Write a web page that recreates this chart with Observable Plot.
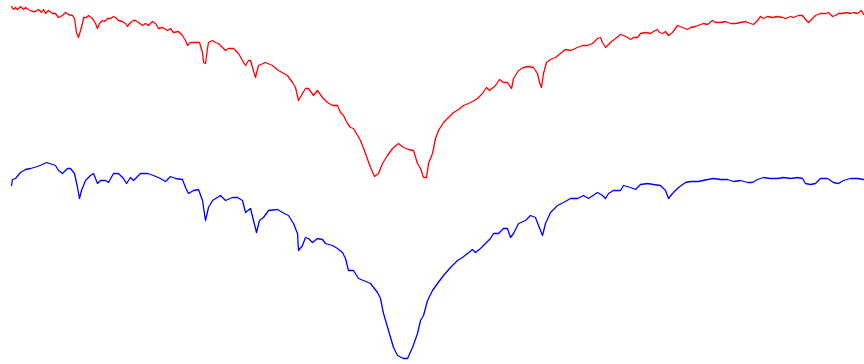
<!DOCTYPE html>
<html>
<head>
<meta charset="utf-8">
<script src="https://cdn.jsdelivr.net/npm/d3@7"></script>
<script src="https://cdn.jsdelivr.net/npm/@observablehq/plot@0.6"></script>
<style>
  html, body { margin: 0; padding: 0; background: #fff; }
  #chart svg { display: block; }
</style>
</head>
<body>
<div id="chart"></div>
<script>
// Two stacked spectra; y is measured downward from the top of the panel.
const redX = [11,13,15,17,20,23,25,28,32,35,38,41,43,45,48,52,55,58,62,65,68,72,74,76,78,80,82,83,86,88,92,95,97,99,102,104,107,110,113,115,118,122,125,127,130,133,135,138,142,145,148,152,155,158,162,167,170,173,178,182,185,187,190,195,199,202,203,205,207,208,212,215,218,222,225,228,233,238,242,245,248,250,255,258,265,272,278,287,292,295,298,302,305,308,313,317,322,327,332,337,340,343,347,350,353,360,365,370,374,378,382,387,392,398,403,408,413,417,420,423,426,428,432,435,438,443,448,453,458,463,468,472,477,482,486,489,495,499,503,507,511,513,518,523,528,533,537,539,541,543,546,550,555,560,565,570,577,582,587,592,597,600,602,605,610,615,620,623,627,630,633,637,640,645,650,653,657,659,662,665,668,672,677,682,687,690,695,700,703,707,712,715,720,725,730,735,740,745,750,753,757,760,763,767,772,777,782,785,790,793,798,802,805,808,812,815,820,825,828,832,835,838,842,846,850,853,857,861,863];
const redY = [6,9,7,9,6,9,7,9,11,11,9,12,9,13,10,13,13,17,15,12,14,15,18,32,37,30,23,17,17,15,18,23,28,23,20,21,18,18,16,17,20,21,23,26,22,20,20,22,25,23,25,21,23,28,27,30,28,32,31,35,40,45,42,42,42,52,62,63,48,42,40,42,43,47,50,48,48,53,60,65,60,60,77,65,62,65,70,75,82,87,100,93,88,88,95,90,97,102,105,105,112,115,123,127,128,140,153,167,176,173,163,155,148,143,147,149,150,163,168,177,177,163,153,138,130,122,117,112,109,105,103,101,98,93,87,90,85,79,82,82,88,78,70,67,66,67,73,82,87,73,62,59,57,53,49,50,47,45,45,43,38,37,42,47,42,38,34,35,37,39,37,37,33,32,33,31,29,32,33,31,35,32,25,27,29,27,26,24,23,24,20,22,22,21,23,23,22,21,23,24,20,16,18,16,17,16,17,18,16,17,15,15,19,22,18,15,13,13,12,16,15,13,13,12,13,12,13,10,14];

const blueX = [11,12,15,20,25,30,37,42,46,52,55,58,62,67,70,74,77,79,81,85,90,93,97,100,105,108,113,118,123,126,130,133,140,147,153,160,165,170,175,182,185,188,193,198,202,205,208,212,220,225,232,237,242,245,250,253,256,259,263,268,277,282,288,293,297,298,302,305,308,312,317,322,325,332,337,342,345,348,353,358,363,370,377,380,383,388,393,397,403,407,412,417,420,423,427,432,437,443,450,457,462,467,472,475,480,485,490,493,498,503,507,510,513,518,525,530,535,538,542,545,550,557,563,570,577,583,588,597,602,605,608,613,620,623,630,635,640,647,653,660,665,668,672,678,685,690,698,707,713,720,727,733,740,747,752,757,763,770,777,783,790,797,802,805,810,815,820,827,833,838,843,850,857,863];
const blueY = [185,179,178,172,169,168,166,164,162,164,165,170,173,168,168,173,187,198,190,180,175,173,183,180,180,182,173,173,178,183,177,180,173,173,175,178,181,176,178,179,187,193,190,189,200,220,207,200,195,200,197,197,200,212,208,220,232,220,217,210,209,212,215,223,233,250,245,237,238,242,238,239,243,245,248,252,258,270,270,278,280,283,292,298,313,330,347,355,358,358,347,333,320,315,300,290,283,275,267,260,257,253,249,252,248,243,238,233,233,228,228,237,233,223,220,215,217,225,235,223,212,205,202,198,198,195,198,192,195,198,193,190,190,185,187,189,184,183,184,185,190,198,193,187,182,181,181,179,178,179,179,181,180,182,182,179,177,178,178,177,178,177,178,183,184,183,178,178,182,183,180,178,178,179];

const red = redX.map((x, i) => ({x, y: redY[i]}));
const blue = blueX.map((x, i) => ({x, y: blueY[i]}));

const chart = Plot.plot({
  width: 864,
  height: 364,
  margin: 0,
  x: {domain: [0, 864], axis: null},
  y: {domain: [364, 0], axis: null},
  style: {background: "#fff"},
  marks: [
    Plot.line(red, {x: "x", y: "y", stroke: "#ff0000", strokeWidth: 1.3}),
    Plot.line(blue, {x: "x", y: "y", stroke: "#0000ff", strokeWidth: 1.3})
  ]
});
document.getElementById("chart").appendChild(chart);
</script>
</body>
</html>
